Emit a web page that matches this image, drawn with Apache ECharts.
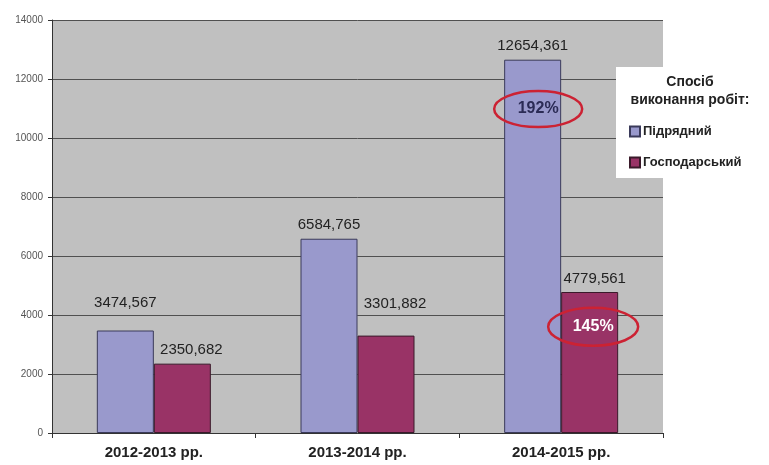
<!DOCTYPE html>
<html>
<head>
<meta charset="utf-8">
<script src="https://cdn.jsdelivr.net/npm/echarts@6/dist/echarts.min.js"></script>
<style>
  html, body { margin: 0; padding: 0; background: #fff; }
  #chart { width: 769px; height: 465px; }
</style>
</head>
<body>
<div id="chart"></div>
<script>
var years = ['2012-2013 рр.', '2013-2014 рр.', '2014-2015 рр.']
var contractValues = [3474.567, 6584.765, 12654.361]
var ownValues = [2350.682, 3301.882, 4779.561]
var contractLabels = ['3474,567', '6584,765', '12654,361']
var ownLabels = ['2350,682', '3301,882', '4779,561']
var seriesNames = ['Підрядний', 'Господарський']
var legendTitle = 'Спосіб\nвиконання робіт:'
var growthNotes = ['192%', '145%']

var chart = echarts.init(document.getElementById('chart'))

// label offsets per bar (the labels in the picture don't sit evenly)
var contractOffsets = [[0, -14], [0, 0], [0, 0]]
var ownOffsets = [[9, 0], [9, -18], [5, 0]]

function buildData (values, labels, offsets) {
  return values.map(function (v, i) {
    return {
      value: v,
      label: { formatter: labels[i], offset: offsets[i] }
    }
  })
}

var labelStyle = {
  show: true,
  position: 'top',
  distance: 6,
  color: '#222',
  fontSize: 15,
  fontFamily: 'Liberation Sans, Arial'
}

var option = {
  animation: false,
  backgroundColor: '#fff',
  textStyle: { fontFamily: 'Liberation Sans, Arial' },
  grid: {
    left: 52,
    right: 106,
    top: 20,
    bottom: 32,
    show: true,
    backgroundColor: '#c0c0c0',
    borderWidth: 0
  },
  legend: {
    orient: 'vertical',
    left: 624,
    top: 120,
    itemWidth: 10,
    itemHeight: 10,
    itemGap: 18,
    icon: 'rect',
    data: seriesNames,
    textStyle: {
      color: '#222',
      fontSize: 13,
      fontWeight: 'bold',
      padding: [0, 0, 0, -2]
    }
  },
  xAxis: {
    type: 'category',
    data: years,
    axisLine: { lineStyle: { color: '#333', width: 1 } },
    axisTick: { show: true, length: 5, lineStyle: { color: '#333' } },
    axisLabel: {
      color: '#222',
      fontSize: 15,
      fontWeight: 'bold',
      margin: 12
    }
  },
  yAxis: {
    type: 'value',
    min: 0,
    max: 14000,
    interval: 2000,
    axisLine: { show: true, lineStyle: { color: '#333' } },
    axisTick: { show: true, length: 4, lineStyle: { color: '#333' } },
    axisLabel: {
      color: '#555',
      fontSize: 10,
      margin: 9,
      formatter: function (v) { return String(v) }
    },
    splitLine: { lineStyle: { color: '#505050', width: 1 } }
  },
  series: [
    {
      name: seriesNames[0],
      type: 'bar',
      barWidth: 57,
      barGap: '0%',
      data: buildData(contractValues, contractLabels, contractOffsets),
      itemStyle: { color: '#9999cc', borderColor: '#3a3a5a', borderWidth: 1 },
      label: labelStyle
    },
    {
      name: seriesNames[1],
      type: 'bar',
      barWidth: 57,
      barGap: '0%',
      data: buildData(ownValues, ownLabels, ownOffsets),
      itemStyle: { color: '#993366', borderColor: '#3a1a2a', borderWidth: 1 },
      label: labelStyle
    }
  ]
}

chart.setOption(option)

// legend box + circled growth notes, placed from axis coordinates
var p1 = chart.convertToPixel({ gridIndex: 0 }, [2, 10980])
var p2 = chart.convertToPixel({ gridIndex: 0 }, [2, 3600])

chart.setOption({
  graphic: [
    {
      type: 'rect',
      z: 0,
      shape: { x: 616, y: 67, width: 141, height: 111 },
      style: { fill: '#fff' }
    },
    {
      type: 'text',
      z: 1,
      style: {
        x: 690,
        y: 73,
        text: legendTitle,
        textAlign: 'center',
        fill: '#222',
        font: 'bold 14px Liberation Sans, Arial',
        lineHeight: 18
      }
    },
    {
      type: 'ellipse',
      z: 100,
      shape: { cx: p1[0] - 23, cy: p1[1], rx: 44, ry: 18 },
      style: { fill: 'none', stroke: '#cc2233', lineWidth: 2.5 }
    },
    {
      type: 'text',
      z: 100,
      style: {
        x: p1[0] - 23,
        y: p1[1],
        text: growthNotes[0],
        textAlign: 'center',
        textVerticalAlign: 'middle',
        fill: '#2b2b55',
        font: 'bold 16px Liberation Sans, Arial'
      }
    },
    {
      type: 'ellipse',
      z: 100,
      shape: { cx: p2[0] + 32, cy: p2[1], rx: 45, ry: 19 },
      style: { fill: 'none', stroke: '#cc2233', lineWidth: 2.5 }
    },
    {
      type: 'text',
      z: 100,
      style: {
        x: p2[0] + 32,
        y: p2[1],
        text: growthNotes[1],
        textAlign: 'center',
        textVerticalAlign: 'middle',
        fill: '#fff',
        font: 'bold 16px Liberation Sans, Arial'
      }
    }
  ]
})
</script>
</body>
</html>
